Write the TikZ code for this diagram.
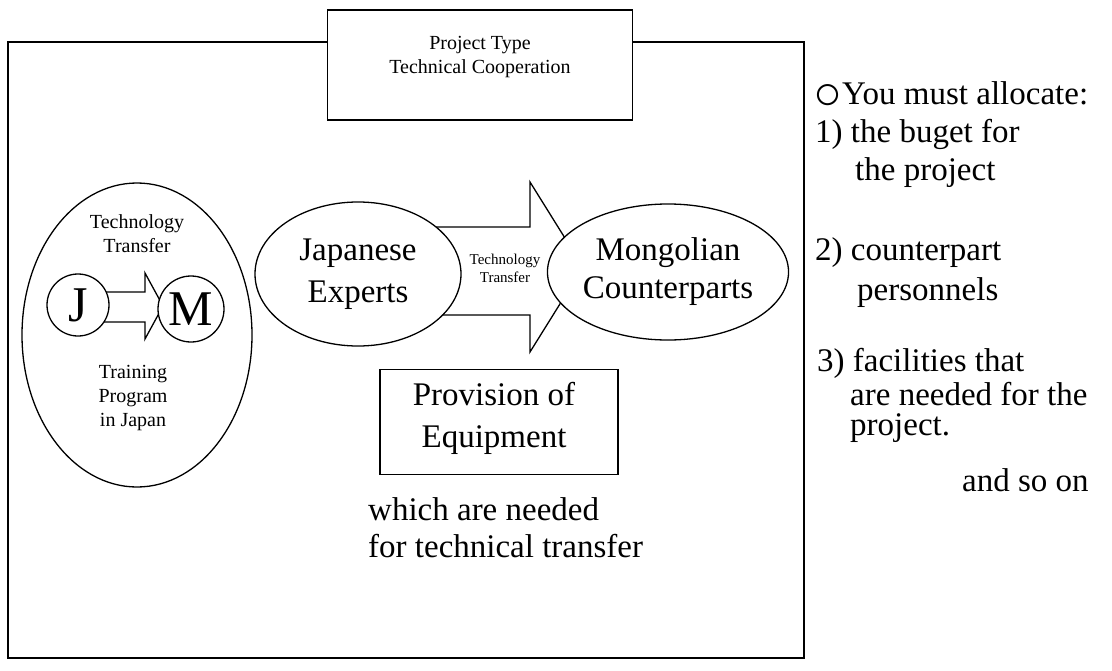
\documentclass[tikz,border=0pt]{standalone}
\usepackage{fontspec}
\setmainfont{Liberation Serif}
\usetikzlibrary{shapes.geometric}
\tikzset{
  ln/.style={line width=1.3pt, line join=miter},
  frameln/.style={line width=2pt},
  oval/.style={ellipse, draw, ln, fill=white, inner sep=0pt, align=center},
  letter/.style={circle, draw, ln, fill=white, inner sep=0pt, font=\fontsize{50}{50}\selectfont},
  big/.style={font=\fontsize{33}{40}\selectfont, align=center, inner sep=0pt},
  mid/.style={font=\fontsize{20}{24}\selectfont, align=center, inner sep=0pt},
  tiny/.style={font=\fontsize{15}{18}\selectfont, align=center, inner sep=0pt},
  rtext/.style={font=\fontsize{33}{40}\selectfont, anchor=base west, inner sep=0pt},
  boxed/.style={draw, ln, inner sep=0pt}
}
\begin{document}
\begin{tikzpicture}[x=1pt, y=-1pt]
\useasboundingbox (0,0) rectangle (1112,670);

% title box
\node[boxed, minimum width=305pt, minimum height=110pt] (title) at (480,65) {};
\node[mid] (titletext) at (480,57) {Project Type\\Technical Cooperation};

% frame
\coordinate (ftl) at (8,42);
\coordinate (fbl) at (8,658);
\coordinate (fbr) at (804,658);
\coordinate (ftr) at (804,42);
\draw[frameln] (title.west |- ftl) -- (ftl) -- (fbl) -- (fbr) -- (ftr) -- (title.east |- ftr);

% left ellipse
\node[oval, minimum width=230pt, minimum height=304pt] (left) at (137,335) {};
\node[mid] (lt1) at (137,234) {Technology\\Transfer};
\node[mid] (lt2) at (133,398) {Training\\Program\\in Japan};

% small block arrow J -> M
\coordinate (sa1) at (100,292);
\coordinate (sa2) at (145,292);
\coordinate (sa3) at (145,273);
\coordinate (sa4) at (163,306);
\coordinate (sa5) at (145,339);
\coordinate (sa6) at (145,322);
\coordinate (sa7) at (100,322);
\draw[ln, fill=white] (sa1) -- (sa2) -- (sa3) -- (sa4) -- (sa5) -- (sa6) -- (sa7) -- cycle;
\node[letter, minimum size=62pt] (J) at (78,305) {J};
\node[letter, minimum size=66pt] (M) at (191,309) {M};

% big block arrow
\coordinate (ba1) at (430,227);
\coordinate (ba2) at (530,227);
\coordinate (ba3) at (530,182);
\coordinate (ba4) at (583,267);
\coordinate (ba5) at (530,352);
\coordinate (ba6) at (530,315);
\coordinate (ba7) at (430,315);
\draw[ln, fill=white] (ba1) -- (ba2) -- (ba3) -- (ba4) -- (ba5) -- (ba6) -- (ba7) -- cycle;

\node[oval, minimum width=206pt, minimum height=144pt, font=\fontsize{33}{42}\selectfont] (jp) at (358,274) {Japanese\\Experts};
\node[oval, minimum width=214pt, minimum height=136pt, font=\fontsize{33}{38}\selectfont] (mn) at (668,272) {Mongolian\\Counterparts};
\node[tiny] (tt) at (505,268) {Technology\\Transfer};

% provision box
\node[boxed, minimum width=238pt, minimum height=105pt] (prov) at (499,422) {};
\node[big, font=\fontsize{33}{42}\selectfont] (provtext) at (494,418) {Provision of\\Equipment};
\node[rtext] (w1) at (368,520) {which are needed};
\node[rtext] (w2) at (368,557) {for technical transfer};

% right text
\node[rtext] (r1) at (813,104) {\raisebox{-5pt}{\fontsize{48}{48}\selectfont ○}You must allocate:};
\node[rtext] (r2) at (815,142) {1) the buget for};
\node[rtext] (r3) at (855,180) {the project};
\node[rtext] (r4) at (815,260) {2) counterpart};
\node[rtext] (r5) at (857,300) {personnels};
\node[rtext] (r6) at (817,371) {3) facilities that};
\node[rtext] (r7) at (850,405) {are needed for the};
\node[rtext] (r8) at (850,435) {project.};
\node[rtext] (r9) at (962,491) {and so on};
\end{tikzpicture}
\end{document}
